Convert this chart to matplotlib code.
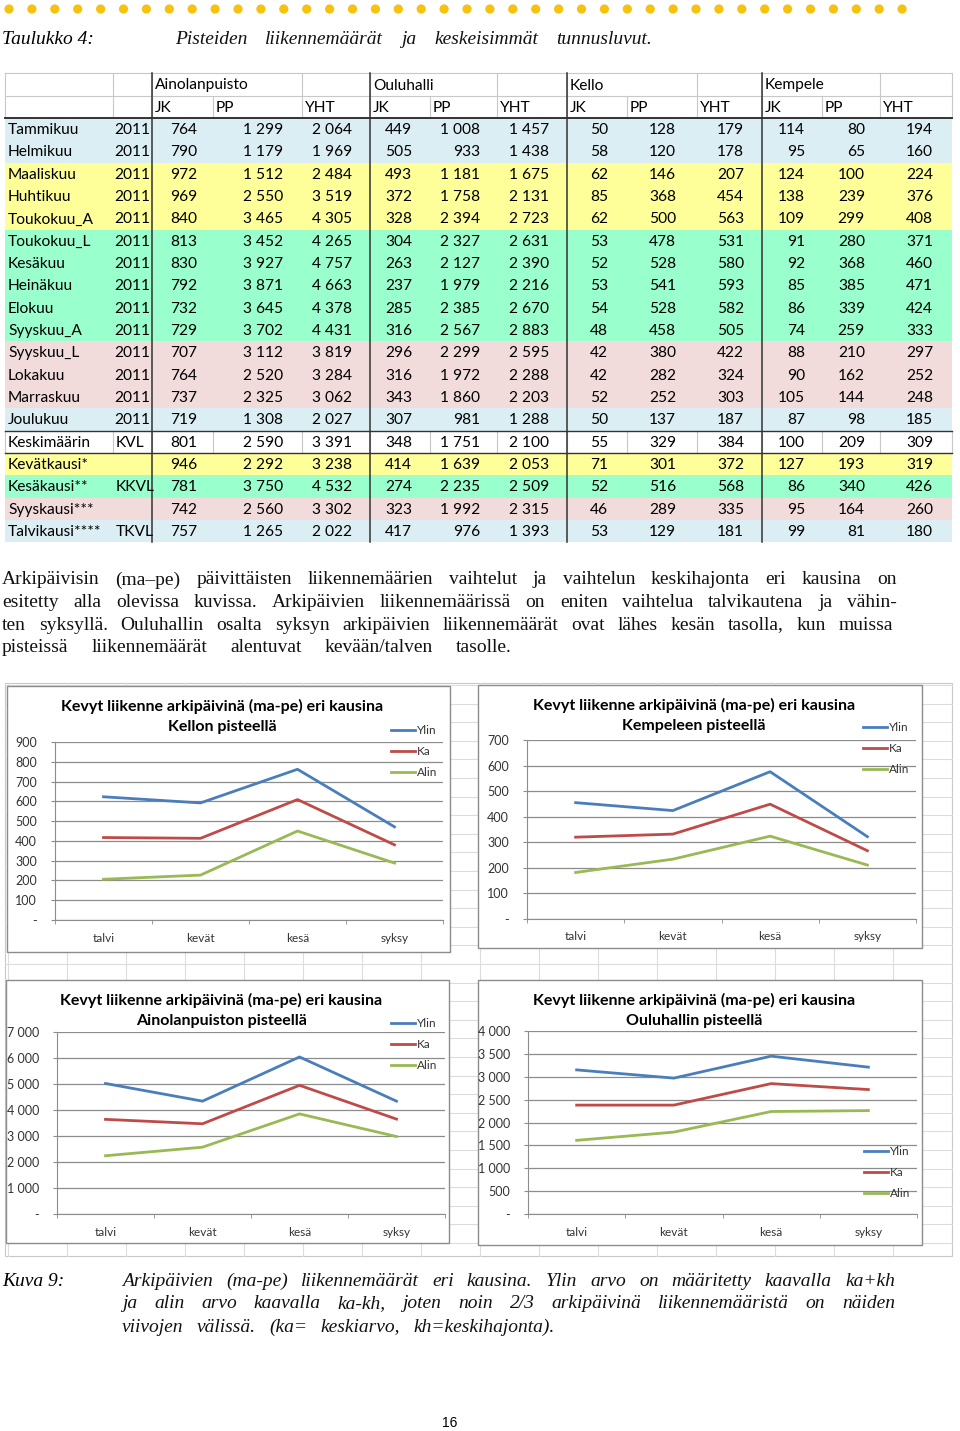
import matplotlib
matplotlib.use("Agg")
import matplotlib.pyplot as plt
import numpy as np
from matplotlib.patches import Rectangle, Circle
from matplotlib.ticker import FuncFormatter

# ---- table data ----
row_labels = ["Tammikuu", "Helmikuu", "Maaliskuu", "Huhtikuu", "Toukokuu_A", "Toukokuu_L",
              "Kesäkuu", "Heinäkuu", "Elokuu", "Syyskuu_A", "Syyskuu_L", "Lokakuu",
              "Marraskuu", "Joulukuu", "Keskimäärin", "Kevätkausi*", "Kesäkausi**",
              "Syyskausi***", "Talvikausi****"]
row_years = ["2011"] * 14 + ["KVL", "", "KKVL", "", "TKVL"]
row_season = ["w", "w", "k", "k", "k", "s", "s", "s", "s", "s", "f", "f", "f", "w",
              "", "k", "s", "f", "w"]
places = ["Ainolanpuisto", "Ouluhalli", "Kello", "Kempele"]
measures = ["JK", "PP", "YHT"]

ainola_jk = [764, 790, 972, 969, 840, 813, 830, 792, 732, 729, 707, 764, 737, 719, 801, 946, 781, 742, 757]
ainola_pp = [1299, 1179, 1512, 2550, 3465, 3452, 3927, 3871, 3645, 3702, 3112, 2520, 2325, 1308, 2590, 2292, 3750, 2560, 1265]
ainola_yht = [2064, 1969, 2484, 3519, 4305, 4265, 4757, 4663, 4378, 4431, 3819, 3284, 3062, 2027, 3391, 3238, 4532, 3302, 2022]
oulu_jk = [449, 505, 493, 372, 328, 304, 263, 237, 285, 316, 296, 316, 343, 307, 348, 414, 274, 323, 417]
oulu_pp = [1008, 933, 1181, 1758, 2394, 2327, 2127, 1979, 2385, 2567, 2299, 1972, 1860, 981, 1751, 1639, 2235, 1992, 976]
oulu_yht = [1457, 1438, 1675, 2131, 2723, 2631, 2390, 2216, 2670, 2883, 2595, 2288, 2203, 1288, 2100, 2053, 2509, 2315, 1393]
kello_jk = [50, 58, 62, 85, 62, 53, 52, 53, 54, 48, 42, 42, 52, 50, 55, 71, 52, 46, 53]
kello_pp = [128, 120, 146, 368, 500, 478, 528, 541, 528, 458, 380, 282, 252, 137, 329, 301, 516, 289, 129]
kello_yht = [179, 178, 207, 454, 563, 531, 580, 593, 582, 505, 422, 324, 303, 187, 384, 372, 568, 335, 181]
kemp_jk = [114, 95, 124, 138, 109, 91, 92, 85, 86, 74, 88, 90, 105, 87, 100, 127, 86, 95, 99]
kemp_pp = [80, 65, 100, 239, 299, 280, 368, 385, 339, 259, 210, 162, 144, 98, 209, 193, 340, 164, 81]
kemp_yht = [194, 160, 224, 376, 408, 371, 460, 471, 424, 333, 297, 252, 248, 185, 309, 319, 426, 260, 180]

# ---- chart data ----
seasons = ["talvi", "kevät", "kesä", "syksy"]
series_names = ["Ylin", "Ka", "Alin"]
kello_ylin = [623, 592, 762, 471]
kello_ka = [417, 413, 609, 380]
kello_alin = [206, 227, 450, 288]
kempele_ylin = [455, 424, 576, 322]
kempele_ka = [320, 332, 449, 267]
kempele_alin = [182, 234, 324, 211]
ainola_ylin = [5020, 4340, 6040, 4340]
ainola_ka = [3640, 3470, 4950, 3650]
ainola_alin = [2240, 2570, 3850, 2980]
oulu_ylin = [3150, 2970, 3450, 3210]
oulu_ka = [2380, 2380, 2850, 2720]
oulu_alin = [1610, 1790, 2240, 2260]

W, H = 960, 1431
fig = plt.figure(figsize=(W / 100, H / 100), dpi=100)
page = fig.add_axes([0, 0, 1, 1])
page.set_xlim(0, W)
page.set_ylim(H, 0)
page.axis("off")

SERIF = "Liberation Serif"
SANS = "Lato"
renderer = fig.canvas.get_renderer()


def px_axes(x0, y0, x1, y1):
    return fig.add_axes([x0 / W, 1 - y1 / H, (x1 - x0) / W, (y1 - y0) / H])


def justify(x0, x1, y, text, size=14, style="normal"):
    words = text.split()
    arts = [page.text(0, y, w, fontsize=size, fontstyle=style, family=SERIF,
                      va="center", ha="left", color="#111") for w in words]
    widths = [a.get_window_extent(renderer).width for a in arts]
    gap = (x1 - x0 - sum(widths)) / max(len(words) - 1, 1)
    x = x0
    for a, w in zip(arts, widths):
        a.set_x(x)
        x += w + gap


def fmt(v):
    return f"{v:,}".replace(",", " ")


# ---- header dots ----
for i in range(40):
    page.add_patch(Circle((9 + i * 22.9, 9), 4.6, color="#f6c20e", lw=0))

page.text(2, 40, "Taulukko 4:", fontsize=14, fontstyle="italic", family=SERIF, va="center")
justify(175, 652, 40, "Pisteiden liikennemäärät ja keskeisimmät tunnusluvut.", style="italic")

# ---- table ----
col_edges = [5, 113, 152, 213, 302, 370, 430, 497, 567, 627, 697, 762, 822, 880, 952]
val_right = [197, 283, 352, 412, 480, 549, 608, 676, 744, 805, 865, 933]
season_colors = {"w": "#daeef3", "k": "#ffff99", "s": "#99ffcc", "f": "#f2dcdb", "": "white"}
top, h1, h2 = 73, 96, 118
rh = 22.33
n = len(row_labels)
bottom = h2 + rh * n

for i, s in enumerate(row_season):
    page.add_patch(Rectangle((5, h2 + rh * i), 947, rh, fc=season_colors[s], lw=0, zorder=1))

grid_c = "#c8c8c8"
hidden_top = [213, 430, 627, 822]  # covered by overflowing place names
for x in col_edges:
    if x not in hidden_top:
        page.plot([x, x], [top, h1], color=grid_c, lw=0.8, zorder=2)
    page.plot([x, x], [h1, h2], color=grid_c, lw=0.8, zorder=2)
    page.plot([x, x], [h2 + rh * 14, h2 + rh * 15], color=grid_c, lw=0.8, zorder=2)
for y in [top, h1]:
    page.plot([5, 952], [y, y], color=grid_c, lw=0.8, zorder=2)
for x in [152, 370, 567, 762]:
    page.plot([x, x], [top, bottom], color="#333", lw=1.1, zorder=3)
page.plot([5, 952], [h2, h2], color="#333", lw=1.4, zorder=3)
page.plot([5, 952], [h2 + rh * 14, h2 + rh * 14], color="#333", lw=1.0, zorder=3)
page.plot([5, 952], [h2 + rh * 15, h2 + rh * 15], color="#333", lw=1.0, zorder=3)

tsize = 11.2
for p, name in enumerate(places):
    x = col_edges[2 + 3 * p] + 3
    page.text(x, (top + h1) / 2 + 1, name, fontsize=tsize, family=SANS, va="center", zorder=4)
    for m, meas in enumerate(measures):
        page.text(col_edges[2 + 3 * p + m] + 3, (h1 + h2) / 2 + 1, meas, fontsize=tsize,
                  family=SANS, va="center", zorder=4)

table_cols = [ainola_jk, ainola_pp, ainola_yht, oulu_jk, oulu_pp, oulu_yht,
              kello_jk, kello_pp, kello_yht, kemp_jk, kemp_pp, kemp_yht]
for i in range(n):
    yc = h2 + rh * i + rh / 2 + 1
    page.text(8, yc, row_labels[i], fontsize=tsize, family=SANS, va="center", zorder=4)
    if row_years[i] == "2011":
        page.text(150, yc, row_years[i], fontsize=tsize, family=SANS, va="center", ha="right", zorder=4)
    elif row_years[i]:
        page.text(116, yc, row_years[i], fontsize=tsize, family=SANS, va="center", zorder=4)
    for c, col in enumerate(table_cols):
        page.text(val_right[c], yc, fmt(col[i]), fontsize=tsize, family=SANS,
                  va="center", ha="right", zorder=4)

# ---- paragraph ----
para = [
    "Arkipäivisin (ma–pe) päivittäisten liikennemäärien vaihtelut ja vaihtelun keskihajonta eri kausina on",
    "esitetty alla olevissa kuvissa. Arkipäivien liikennemäärissä on eniten vaihtelua talvikautena ja vähin-",
    "ten syksyllä. Ouluhallin osalta syksyn arkipäivien liikennemäärät ovat lähes kesän tasolla, kun muissa",
    "pisteissä liikennemäärät alentuvat kevään/talven tasolle.",
]
para_right = [897, 897, 893, 512]
for k, (line, xr) in enumerate(zip(para, para_right)):
    justify(2, xr, 580 + 22.5 * k, line)

# ---- excel sheet background behind charts ----
sx0, sx1, sy0, sy1 = 5, 952, 683, 1256
page.add_patch(Rectangle((sx0, sy0), sx1 - sx0, sy1 - sy0, fc="white", ec="#c8c8c8", lw=0.8, zorder=1))
for x in np.arange(8, sx1, 59):
    page.plot([x, x], [sy0, sy1], color="#dcdcdc", lw=0.8, zorder=1)
for y in np.arange(685, sy1, 18.6):
    page.plot([sx0, sx1], [y, y], color="#dcdcdc", lw=0.8, zorder=1)

line_colors = ["#4a7ebb", "#be4b48", "#98b954"]


def draw_chart(box, axbox, place_title, ylin, ka, alin, ymax, step, thousands, leg_xy):
    x0, y0, x1, y1 = box
    page.add_patch(Rectangle((x0, y0), x1 - x0, y1 - y0, fc="white", ec="#8c8c8c", lw=1, zorder=5))
    cx = (x0 + x1) / 2 - 6
    page.text(cx, y0 + 20, "Kevyt liikenne arkipäivinä (ma-pe) eri kausina", fontsize=11.5,
              fontweight="bold", family=SANS, ha="center", va="center", zorder=6)
    page.text(cx, y0 + 41, place_title, fontsize=11.5, fontweight="bold", family=SANS,
              ha="center", va="center", zorder=6)

    ax = px_axes(*axbox)
    ax.patch.set_visible(False)
    xs = np.arange(len(seasons))
    handles = []
    for vals, col in zip([ylin, ka, alin], line_colors):
        h, = ax.plot(xs, vals, color=col, lw=2.0, solid_joinstyle="round")
        handles.append(h)
    ax.set_xlim(-0.5, 3.5)
    ax.set_ylim(0, ymax)
    ax.set_yticks(np.arange(0, ymax + 1, step))
    if thousands:
        ax.yaxis.set_major_formatter(FuncFormatter(lambda v, _: "-" if v == 0 else fmt(int(v))))
    else:
        ax.yaxis.set_major_formatter(FuncFormatter(lambda v, _: "-" if v == 0 else str(int(v))))
    ax.grid(axis="y", color="#8c8c8c", lw=0.9)
    ax.set_axisbelow(True)
    for s in ["top", "right"]:
        ax.spines[s].set_visible(False)
    for s in ["left", "bottom"]:
        ax.spines[s].set_color("#8c8c8c")
    ax.set_xticks(xs)
    ax.set_xticklabels(seasons)
    ax.set_xticks(np.arange(-0.5, 4, 1), minor=True)
    ax.tick_params(axis="x", which="major", length=0, pad=9, labelsize=8.5, labelcolor="#333")
    ax.tick_params(axis="x", which="minor", length=3, color="#8c8c8c")
    ax.tick_params(axis="y", length=3, color="#8c8c8c", pad=10, labelsize=9, labelcolor="#333")
    for lab in ax.get_xticklabels() + ax.get_yticklabels():
        lab.set_family(SANS)
    ax.legend(handles, series_names, loc="upper left", bbox_to_anchor=leg_xy,
              bbox_transform=page.transData, frameon=False, handlelength=2.0,
              handletextpad=0.2, labelspacing=0.85, borderpad=0, borderaxespad=0,
              prop={"family": SANS, "size": 8.5}, labelcolor="#333")
    return ax


draw_chart((7, 686, 450, 952), (55, 742, 443, 920), "Kellon pisteellä",
           kello_ylin, kello_ka, kello_alin, 900, 100, False, (391, 725))
draw_chart((478, 685, 922, 948), (527, 740, 916, 919), "Kempeleen pisteellä",
           kempele_ylin, kempele_ka, kempele_alin, 700, 100, False, (863, 722))
draw_chart((6, 980, 449, 1243), (57, 1032, 445, 1214), "Ainolanpuiston pisteellä",
           ainola_ylin, ainola_ka, ainola_alin, 7000, 1000, True, (391, 1018))
draw_chart((478, 980, 922, 1245), (528, 1031, 917, 1214), "Ouluhallin pisteellä",
           oulu_ylin, oulu_ka, oulu_alin, 4000, 500, True, (864, 1146))

# ---- caption ----
page.text(2, 1281, "Kuva 9:", fontsize=14, fontstyle="italic", family=SERIF, va="center")
caption = [
    "Arkipäivien (ma-pe) liikennemäärät eri kausina. Ylin arvo on määritetty kaavalla ka+kh",
    "ja alin arvo kaavalla ka-kh, joten noin 2/3 arkipäivinä liikennemääristä on näiden",
    "viivojen välissä. (ka= keskiarvo, kh=keskihajonta).",
]
cap_right = [895, 895, 555]
for k, (line, xr) in enumerate(zip(caption, cap_right)):
    justify(122, xr, 1281 + 23 * k, line, style="italic")

page.text(450, 1423, "16", fontsize=10, family="Liberation Sans", ha="center", va="center")

fig.savefig("out.png", dpi=100, facecolor="white")
